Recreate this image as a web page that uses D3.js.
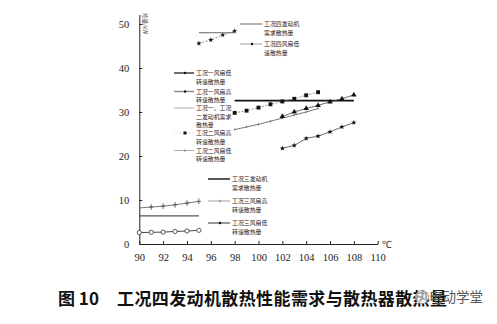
<!DOCTYPE html>
<html><head><meta charset="utf-8">
<script src="https://cdn.jsdelivr.net/npm/d3@7"></script>
<style>html,body{margin:0;padding:0;background:#fff;}svg{display:block;}</style>
</head><body>
<svg id="c" width="497" height="324"></svg>
<script>
// ---- data ----
const xTicks = [90,92,94,96,98,100,102,104,106,108,110];
const yTicks = [0,10,20,30,40,50];
// 工况四 (95-98 ℃)
const c4Temps = [95,96,97,98];
const c4FanLow = [45.6,46.4,47.5,48.4];
const c4DemandRange = [95,98];
const c4Demand = 48;
// 工况三 (90-95 ℃)
const c3Temps = [90,91,92,93,94,95];
const c3FanHigh = [8.2,8.4,8.6,8.9,9.3,9.7];
const c3FanLow = [2.6,2.65,2.7,2.85,2.95,3.1];
const c3DemandRange = [90,95];
const c3Demand = 6.4;
// 工况一、工况二 发动机需求
const c12DemandRange = [98,108];
const c12Demand = 32.6;
// 工况二 (98-105 ℃)
const c2Temps = [98,99,100,101,102,103,104,105];
const c2FanHigh = [29.8,30.3,31.0,31.75,32.4,33.0,33.8,34.5];
const c2FanLow = [26.0,26.6,27.2,27.9,28.6,29.3,30.0,30.8];
// 工况一 (102-108 ℃)
const c1Temps = [102,103,104,105,106,107,108];
const c1FanHigh = [29.0,30.0,30.8,31.5,32.3,33.0,33.9];
const c1FanLow = [21.75,22.4,24.0,24.5,25.5,26.6,27.6];

const titleFig = "图 10";
const titleText = "工况四发动机散热性能需求与散热器散热量";

// ---- drawing ----
const svg = d3.select("#c");
const x = d3.scaleLinear().domain([90,110]).range([139.3,377.7]);
const y = d3.scaleLinear().domain([0,50]).range([244,24]);

// axes
const xAxis = d3.axisBottom(x).tickValues(xTicks).tickSizeInner(-3).tickSizeOuter(0).tickPadding(10);
const gx = svg.append("g").attr("transform","translate(0,244)").call(xAxis);
const yAxis = d3.axisLeft(y).tickValues(yTicks).tickSizeInner(-3).tickSizeOuter(0).tickPadding(10);
const gy = svg.append("g").attr("transform","translate(139.3,0)").call(yAxis);
[gx,gy].forEach(g=>{
  g.select(".domain").attr("stroke","#222").attr("stroke-width",1);
  g.selectAll(".tick line").attr("stroke","#222");
  g.selectAll("text").attr("font-family","Liberation Serif, serif").attr("font-size",10.5).attr("fill","#222");
});
gy.select(".domain").attr("d","M0.5,244V15");
svg.append("text").attr("x",382).attr("y",248).attr("font-family","Liberation Serif, serif")
  .attr("font-size",10).attr("fill","#333").text("℃");
svg.append("text").attr("transform","translate(143,13) rotate(90)").attr("font-family","Noto Sans CJK SC")
  .attr("font-size",5.5).attr("fill","#444").text("热量/kW");

const line = d3.line().x(d=>x(d[0])).y(d=>y(d[1]));
const zip = (a,b)=>a.map((v,i)=>[v,b[i]]);

function hline(range,val,stroke,w){
  svg.append("path").attr("d",line([[range[0],val],[range[1],val]]))
    .attr("stroke",stroke).attr("stroke-width",w).attr("fill","none");
}
function series(pts,stroke,w,dash){
  svg.append("path").attr("d",line(pts)).attr("stroke",stroke).attr("stroke-width",w)
    .attr("fill","none").attr("stroke-dasharray",dash||null);
}
function marker(type,cx,cy){
  const g = svg.append("g").attr("transform",`translate(${cx},${cy})`);
  if(type==="star"){
    g.append("path").attr("d",d3.symbol(d3.symbolStar,9)()).attr("fill","#111");
  } else if(type==="tri"){
    g.append("path").attr("d",d3.symbol(d3.symbolTriangle,13)()).attr("fill","#111");
  } else if(type==="square"){
    g.append("path").attr("d",d3.symbol(d3.symbolSquare,15)()).attr("fill","#111");
  } else if(type==="circle"){
    g.append("circle").attr("r",2.1).attr("fill","#fff").attr("stroke","#333").attr("stroke-width",0.8);
  } else if(type==="plus"){
    g.append("path").attr("d","M-2.2,0H2.2M0,-2.8V2.8").attr("stroke","#444").attr("stroke-width",0.8);
  } else if(type==="tick"){
    g.append("path").attr("d","M0,-1.1V1.1").attr("stroke","#555").attr("stroke-width",0.8);
  } else if(type==="dot"){
    g.append("circle").attr("r",1.2).attr("fill","#111");
  }
}
function markers(pts,type){ pts.forEach(p=>marker(type,x(p[0]),y(p[1]))); }

// 工况四
hline(c4DemandRange,c4Demand,"#666",1.1);
series(zip(c4Temps,c4FanLow),"#666",0.7,"2,1.5");
markers(zip(c4Temps,c4FanLow),"star");
// 工况三
hline(c3DemandRange,c3Demand,"#555",1.2);
series(zip(c3Temps,c3FanHigh),"#555",0.8);
markers(zip(c3Temps,c3FanHigh).slice(1),"plus");
series(zip(c3Temps,c3FanLow),"#333",0.9);
markers(zip(c3Temps,c3FanLow),"circle");
// 工况一、二 需求
hline(c12DemandRange,c12Demand,"#111",1.8);
// 工况二
series(zip(c2Temps,c2FanHigh),"#666",0.7,"2,1.5");
markers(zip(c2Temps,c2FanHigh),"square");
series(zip(c2Temps,c2FanLow),"#555",0.8);
markers(zip(c2Temps,c2FanLow),"tick");
// 工况一
series(zip(c1Temps,c1FanHigh),"#444",0.8);
markers(zip(c1Temps,c1FanHigh),"tri");
series(zip(c1Temps,c1FanLow),"#444",0.8);
markers(zip(c1Temps,c1FanLow),"star");

// legends
const legends = [
  {x0:240,x1:262,tx:264,y:24,lines:["工况四发动机","需求散热量"],stroke:"#777",w:1.1,m:null},
  {x0:240,x1:262,tx:264,y:44,lines:["工况四风扇低","速散热量"],stroke:"#777",w:0.7,m:"dot"},
  {x0:174,x1:194,tx:196,y:73,lines:["工况一风扇低","转速散热量"],stroke:"#333",w:1.4,m:"dot"},
  {x0:174,x1:194,tx:196,y:91.5,lines:["工况一风扇高","转速散热量"],stroke:"#888",w:1.4,m:"dot"},
  {x0:174,x1:194,tx:196,y:108,lines:["工况一、工况","二发动机需求","散热量"],stroke:"#999",w:0.8,m:null},
  {x0:174,x1:194,tx:196,y:133,lines:["工况二风扇高","转速散热量"],stroke:"#bbb",w:0.7,m:"square",dash:"1,2"},
  {x0:174,x1:194,tx:196,y:150.5,lines:["工况二风扇低","转速散热量"],stroke:"#999",w:0.8,m:"tick"},
  {x0:208,x1:230,tx:232,y:179,lines:["工况三发动机","需求散热量"],stroke:"#222",w:1.5,m:null},
  {x0:208,x1:230,tx:232,y:201,lines:["工况三风扇高","转速散热量"],stroke:"#888",w:0.8,m:"tick"},
  {x0:208,x1:230,tx:232,y:223,lines:["工况三风扇低","转速散热量"],stroke:"#333",w:1.0,m:"dot"}
];
legends.forEach(l=>{
  svg.append("path").attr("d",`M${l.x0},${l.y}H${l.x1}`).attr("stroke",l.stroke)
    .attr("stroke-width",l.w).attr("stroke-dasharray",l.dash||null);
  if(l.m){
    const mx=(l.x0+l.x1)/2+1;
    if(l.m==="square"){ svg.append("rect").attr("x",mx-1.5).attr("y",l.y-1.5).attr("width",3).attr("height",3).attr("fill","#111"); }
    else marker(l.m,mx,l.y);
  }
  const t = svg.append("text").attr("font-family","Noto Sans CJK SC").attr("font-size",5.9).attr("fill","#222");
  const gap = l.gap || 8.5;
  l.lines.forEach((s,i)=>t.append("tspan").attr("x",l.tx).attr("y",l.y+2.1+i*gap).text(s));
});

// title
const tf = {family:"Noto Sans CJK SC",size:17,weight:700};
svg.append("text").attr("x",58).attr("y",305).attr("font-family",tf.family)
  .attr("font-weight",tf.weight).attr("font-size",tf.size).attr("fill","#111").text(titleFig);
svg.append("text").attr("x",117).attr("y",305).attr("font-family",tf.family)
  .attr("font-weight",tf.weight).attr("font-size",tf.size).attr("fill","#111")
  .attr("textLength",330).text(titleText);
// watermark
svg.append("circle").attr("cx",422).attr("cy",297).attr("r",6.5).attr("fill","#fff").attr("fill-opacity",0.6).attr("stroke","#999").attr("stroke-width",1);
svg.append("text").attr("x",429).attr("y",302).attr("font-family","Noto Sans CJK SC")
  .attr("font-size",13.5).attr("fill","#555").text("电动学堂");
</script>
</body></html>
